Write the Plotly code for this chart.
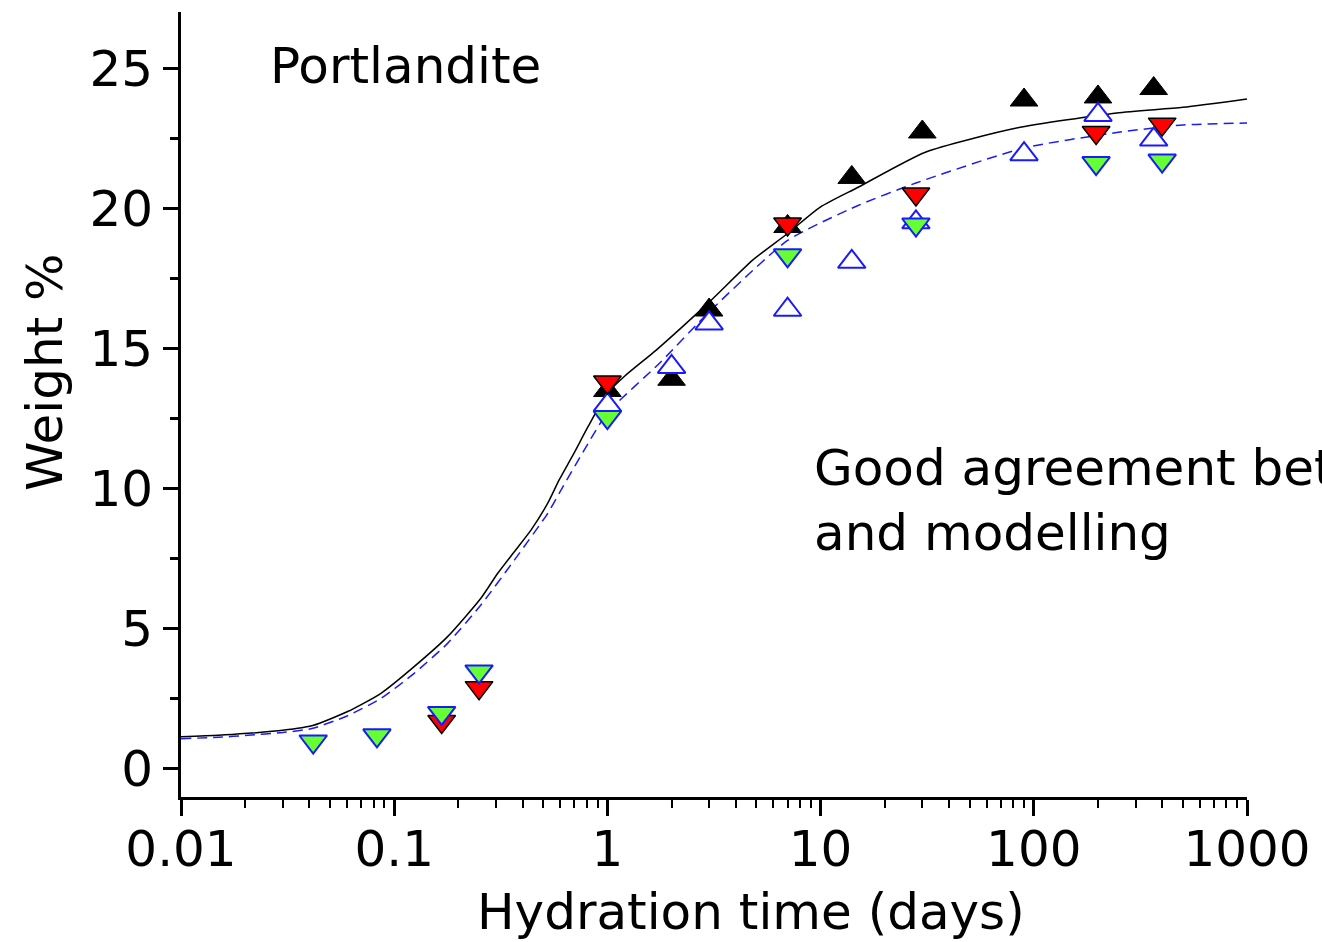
import plotly.graph_objects as go

# Measured portlandite content (wt %) against hydration time (days)
t_black = [1, 2, 3, 7, 14, 30, 90, 200, 365]
w_black = [13.5, 13.9, 16.37, 19.35, 21.1, 22.72, 23.86, 23.97, 24.27]

t_blue = [1, 2, 3, 7, 14, 28, 90, 200, 365]
w_blue = [12.98, 14.34, 15.89, 16.38, 18.09, 19.5, 21.93, 23.33, 22.45]

t_red = [0.167, 0.25, 1, 7, 28, 196, 400]
w_red = [1.69, 2.9, 13.8, 19.44, 20.51, 22.7, 23.0]

t_green = [0.0417, 0.083, 0.167, 0.25, 1, 7, 28, 196, 400]
w_green = [0.98, 1.2, 2.0, 3.48, 12.55, 18.32, 19.42, 21.61, 21.7]

# Modelled portlandite curves
t_model_a = [0.01, 0.015, 0.0206, 0.03, 0.0415, 0.0605, 0.0867, 0.124, 0.178, 0.255,
             0.306, 0.366, 0.438, 0.525, 0.594, 0.69, 0.81, 1, 1.2, 1.7, 3, 4.8, 7,
             10, 15, 31, 83, 245, 500, 1000]
w_model_a = [1.15, 1.2, 1.27, 1.38, 1.55, 2.05, 2.7, 3.65, 4.72, 6.09,
             6.98, 7.75, 8.52, 9.48, 10.31, 11.2, 12.2, 13.4, 14.0, 14.95, 16.65, 18.15, 19.1,
             20.05, 20.75, 22.0, 22.86, 23.4, 23.6, 23.9]

t_model_b = [0.01, 0.015, 0.0206, 0.03, 0.0415, 0.0605, 0.0867, 0.124, 0.178, 0.255,
             0.366, 0.525, 0.594, 0.81, 1, 1.77, 3, 7, 15, 28, 90, 245, 500, 1000]
w_model_b = [1.08, 1.13, 1.2, 1.3, 1.45, 1.9, 2.52, 3.41, 4.48, 5.85,
             7.45, 9.12, 9.83, 11.6, 12.7, 14.5, 16.3, 18.85, 20.1, 20.9, 22.15, 22.7, 22.97, 23.04]

x_tickvals = [0.01, 0.1, 1, 10, 100, 1000]
x_ticktext = ["0.01", "0.1", "1", "10", "100", "1000"]
y_tickvals = [0, 5, 10, 15, 20, 25]

FONT = "DejaVu Sans"
MS = 24

fig = go.Figure()

fig.add_trace(go.Scatter(x=t_model_a, y=w_model_a, mode="lines",
                         line=dict(color="black", width=1.5, shape="spline", smoothing=0.6),
                         hoverinfo="skip"))
fig.add_trace(go.Scatter(x=t_model_b, y=w_model_b, mode="lines",
                         line=dict(color="#1a1aff", width=1.5, dash="10px,6px",
                                   shape="spline", smoothing=0.6),
                         hoverinfo="skip"))

fig.add_trace(go.Scatter(x=t_black, y=w_black, mode="markers",
                         marker=dict(symbol="triangle-up", size=MS, color="black",
                                     line=dict(color="black", width=1))))
fig.add_trace(go.Scatter(x=t_blue, y=w_blue, mode="markers",
                         marker=dict(symbol="triangle-up", size=MS, color="white",
                                     line=dict(color="#1a1aff", width=2))))
fig.add_trace(go.Scatter(x=t_red, y=w_red, mode="markers",
                         marker=dict(symbol="triangle-down", size=MS, color="#ff0000",
                                     line=dict(color="black", width=1.5))))
fig.add_trace(go.Scatter(x=t_green, y=w_green, mode="markers",
                         marker=dict(symbol="triangle-down", size=MS, color="#66ff33",
                                     line=dict(color="#1a1aff", width=2))))

fig.update_layout(
    width=1322, height=942,
    margin=dict(l=181, r=75, t=12, b=145),
    paper_bgcolor="white", plot_bgcolor="white",
    showlegend=False,
    font=dict(family=FONT, size=50, color="black"),
)

fig.update_xaxes(
    type="log", range=[-2, 3],
    tickvals=x_tickvals, ticktext=x_ticktext,
    showgrid=False, zeroline=False,
    showline=True, linecolor="black", linewidth=3,
    ticks="outside", ticklen=16, tickwidth=3, tickcolor="black",
    tickfont=dict(family=FONT, size=50),
    ticklabelstandoff=-10,
    minor=dict(ticks="outside", ticklen=8, tickwidth=2, tickcolor="black",
               dtick="D1", showgrid=False),
)
fig.update_yaxes(
    range=[-1, 27],
    tickvals=y_tickvals,
    showgrid=False, zeroline=False,
    showline=True, linecolor="black", linewidth=3,
    ticks="outside", ticklen=15, tickwidth=3, tickcolor="black",
    tickfont=dict(family=FONT, size=50),
    ticklabelstandoff=0,
    minor=dict(ticks="outside", ticklen=8, tickwidth=3, tickcolor="black",
               dtick=2.5, showgrid=False),
)

def px_x(p):
    return (p - 181) / 1066

def px_y(p):
    return (797 - p) / 785

annotations = [
    dict(text="Portlandite", x=px_x(268), y=px_y(66), xanchor="left", yanchor="middle"),
    dict(text="Good agreement between experiment", x=px_x(812), y=px_y(468),
         xanchor="left", yanchor="middle"),
    dict(text="and modelling", x=px_x(812), y=px_y(533), xanchor="left", yanchor="middle"),
    dict(text="Hydration time (days)", x=px_x(751), y=px_y(912),
         xanchor="center", yanchor="middle"),
    dict(text="Weight %", x=px_x(45), y=px_y(372), textangle=-90,
         xanchor="center", yanchor="middle"),
]
for a in annotations:
    fig.add_annotation(xref="paper", yref="paper", showarrow=False,
                       font=dict(family=FONT, size=50, color="black"), **a)

fig.write_html("out.html")
